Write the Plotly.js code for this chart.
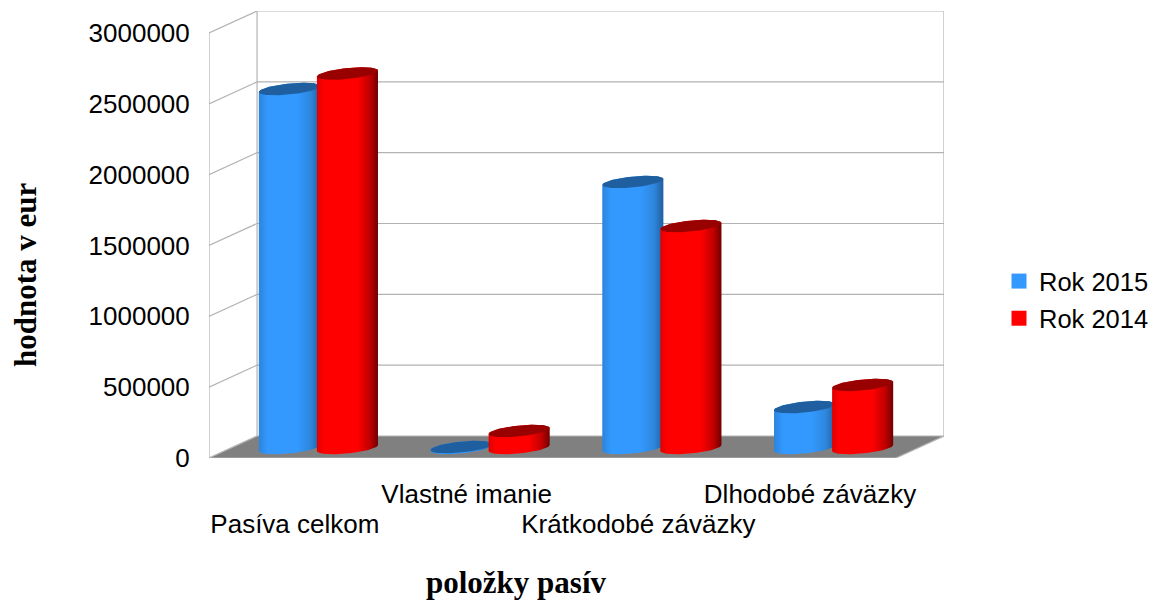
<!DOCTYPE html>
<html><head><meta charset="utf-8">
<script src="https://cdn.plot.ly/plotly-3.0.1.min.js"></script>
<style>html,body{margin:0;padding:0;background:#fff}#c{width:1156px;height:601px}</style>
</head><body><div id="c"></div>
<script>
const categories = ['Pasíva celkom','Vlastné imanie','Krátkodobé záväzky','Dlhodobé záväzky'];
const yTicks = [0,500000,1000000,1500000,2000000,2500000,3000000];
const rok2015 = [2534000,7000,1878000,289000];
const rok2014 = [2643000,120000,1567000,445000];

const SLOT_PX = 171.5, Y_PX = 425/3000000;
const DEPTH_X = 48/SLOT_PX, DEPTH_Y = 22/Y_PX, BASE = 10/Y_PX;
const A = 30.5/SLOT_PX, B = 5.5/Y_PX, K = 3/Y_PX;
const N = categories.length, YMAX = yTicks[yTicks.length-1];
const FONT = 'Liberation Sans, Arial, sans-serif';
const SERIF = 'Liberation Serif, Times New Roman, serif';
const ML = 209, MR = 0, PAPER_W = 1156-ML-MR, PLOT_W = 735, PLOT_H = 447;
const XRANGE = [0,N+DEPTH_X];

const series = [
  {name:'Rok 2015', values:rok2015, off:-5.5/SLOT_PX, color:'#3399ff', cap:'#1f5f9f',
   scale:[[0,'#2c84dc'],[0.15,'#3399ff'],[0.62,'#3399ff'],[0.85,'#2e86dc'],[1,'#1f5f9f']]},
  {name:'Rok 2014', values:rok2014, off:52.5/SLOT_PX, color:'#ff0000', cap:'#990000',
   scale:[[0,'#e00000'],[0.12,'#ff0000'],[0.66,'#ff0000'],[0.87,'#c00000'],[1,'#700000']]}
];

const traces = [];
const gx=[], gy=[];
yTicks.forEach(v=>{ if(v===0) return; gx.push(0,DEPTH_X,N+DEPTH_X,null); gy.push(v,v+DEPTH_Y,v+DEPTH_Y,null); });
gx.push(0,0,null, DEPTH_X,DEPTH_X,null, N+DEPTH_X,N+DEPTH_X,null);
gy.push(0,YMAX,null, DEPTH_Y,YMAX+DEPTH_Y,null, DEPTH_Y,YMAX+DEPTH_Y,null);
traces.push({type:'scatter',mode:'lines',x:gx,y:gy,line:{color:'#b3b3b3',width:1.2},showlegend:false,hoverinfo:'skip',cliponaxis:false});
traces.push({type:'scatter',mode:'lines',x:[0,DEPTH_X,N+DEPTH_X,N,0],y:[0,DEPTH_Y,DEPTH_Y,0,0],fill:'toself',fillcolor:'#808080',
  line:{color:'#b3b3b3',width:1.2},showlegend:false,hoverinfo:'skip',cliponaxis:false});

const TS=[]; for(let i=0;i<=48;i++) TS.push(i/48);
series.forEach(s=>{
  traces.push({type:'bar',name:s.name,x:categories.map((c,i)=>i+0.5+s.off),y:s.values,base:categories.map(()=>BASE),
    width:categories.map(()=>50/SLOT_PX),marker:{color:s.color,line:{width:0}},hoverinfo:'skip',showlegend:false});
});
categories.forEach((c,i)=>{
  series.forEach(s=>{
    const cx=i+0.5+s.off, top=BASE+s.values[i];
    const px=[],py=[];
    TS.forEach(u=>{const t=Math.PI+u*Math.PI; px.push(cx+A*Math.cos(t)); py.push(BASE+B*Math.sin(t)+K*Math.cos(t));});
    TS.forEach(u=>{const t=u*Math.PI; px.push(cx+A*Math.cos(t)); py.push(top+B*Math.sin(t)+K*Math.cos(t));});
    px.push(px[0]);py.push(py[0]);
    traces.push({type:'scatter',mode:'lines',x:px,y:py,fill:'toself',line:{width:0,color:s.color},
      fillgradient:{type:'horizontal',colorscale:s.scale},showlegend:false,hoverinfo:'skip'});
    const ex=[],ey=[];
    TS.concat(TS.map(u=>1+u)).forEach(u=>{const t=u*Math.PI; ex.push(cx+A*Math.cos(t)); ey.push(top+B*Math.sin(t)+K*Math.cos(t));});
    traces.push({type:'scatter',mode:'lines',x:ex,y:ey,fill:'toself',fillcolor:s.cap,line:{width:0,color:s.cap},showlegend:false,hoverinfo:'skip'});
  });
});
series.forEach(s=>{
  traces.push({type:'scatter',mode:'markers',name:s.name,legendgroup:s.name,xaxis:'x2',yaxis:'y',x:[null],y:[null],
    marker:{symbol:'square',size:15,color:s.color,line:{width:0}},hoverinfo:'skip'});
});

const axisCommon = {range:XRANGE,domain:[0,PLOT_W/PAPER_W],tickmode:'array',tickangle:0,showgrid:false,zeroline:false,showline:false,
  ticks:'outside',tickcolor:'rgba(0,0,0,0)',tickfont:{family:FONT,size:26,color:'#000'},fixedrange:true};
const upper=[1,3], lower=[0,2];

const layout = {
  width:1156,height:601,paper_bgcolor:'#fff',plot_bgcolor:'#fff',
  margin:{l:ML,r:MR,t:11,b:143,pad:0},
  barmode:'overlay',showlegend:true,
  font:{family:FONT,size:26,color:'#000'},
  xaxis:Object.assign({},axisCommon,{tickvals:upper.map(i=>i+0.5),ticktext:upper.map(i=>categories[i]),ticklen:13}),
  xaxis2:Object.assign({},axisCommon,{tickvals:lower.map(i=>i+0.5),ticktext:lower.map(i=>categories[i]),ticklen:43,overlaying:'x',anchor:'y',side:'bottom'}),
  yaxis:{range:[0,YMAX+DEPTH_Y],tickmode:'array',tickvals:yTicks,ticktext:yTicks.map(String),
    showgrid:false,zeroline:false,showline:false,ticks:'outside',ticklen:13,tickcolor:'rgba(0,0,0,0)',
    tickfont:{family:FONT,size:26,color:'#000'},fixedrange:true},
  legend:{x:(999-ML)/PAPER_W,y:(458-300)/PLOT_H,xanchor:'left',yanchor:'middle',font:{family:FONT,size:25.5,color:'#000'},
    bgcolor:'rgba(0,0,0,0)',tracegroupgap:1,itemsizing:'trace'},
  annotations:[
    {xref:'paper',yref:'paper',x:(516-ML)/PAPER_W,y:(458-582)/PLOT_H,text:'<b>položky pasív</b>',showarrow:false,
     xanchor:'center',yanchor:'middle',font:{family:SERIF,size:31,color:'#000'}},
    {xref:'paper',yref:'paper',x:(25-ML)/PAPER_W,y:(458-275)/PLOT_H,text:'<b>hodnota v eur</b>',showarrow:false,textangle:-90,
     xanchor:'center',yanchor:'middle',font:{family:SERIF,size:31,color:'#000'}}
  ]
};
Plotly.newPlot('c',traces,layout,{displayModeBar:false,responsive:false});
</script></body></html>
